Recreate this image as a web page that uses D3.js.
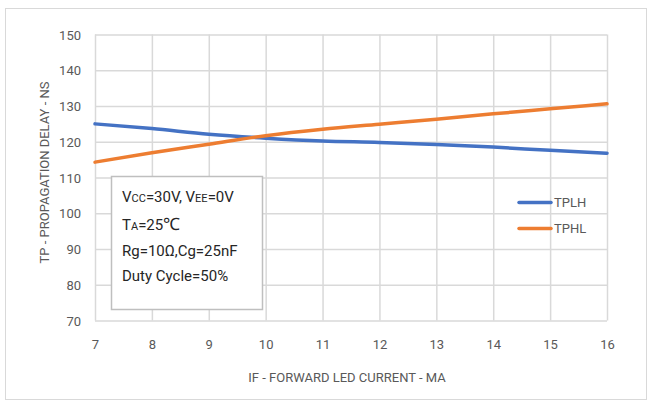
<!DOCTYPE html>
<html><head><meta charset="utf-8">
<script src="https://cdn.jsdelivr.net/npm/d3@7"></script>
<style>body{margin:0;background:#fff}svg{display:block}text{font-family:"Roboto",sans-serif}</style>
</head><body><svg id="c" width="647" height="401"></svg>
<script>
const currents = [7, 8, 9, 10, 11, 12, 13, 14, 15, 16];
const tplh = [125.0, 123.7, 122.1, 121.0, 120.2, 119.8, 119.2, 118.5, 117.6, 116.8];
const tphl = [114.3, 116.9, 119.3, 121.7, 123.5, 124.9, 126.3, 127.8, 129.2, 130.6];
const yTicks = [70, 80, 90, 100, 110, 120, 130, 140, 150];
const seriesNames = ["TPLH", "TPHL"];
const seriesColors = ["#4472C4", "#ED7D31"];
const xTitle = "IF - FORWARD LED CURRENT - MA";
const yTitle = "TP - PROPAGATION DELAY - NS";

const svg = d3.select("#c");
svg.append("rect").attr("x",5.5).attr("y",8.5).attr("width",641).attr("height",391)
  .attr("fill","#fff").attr("stroke","#d9d9d9").attr("stroke-width",1);

const x = d3.scaleLinear().domain([7,16]).range([95,607]);
const y = d3.scaleLinear().domain([70,150]).range([320.5,34.5]);

// gridlines
const gx = svg.append("g").attr("transform",`translate(0,${y(70)})`)
  .call(d3.axisBottom(x).tickValues(currents).tickSize(-(y(70)-y(150))).tickFormat(d3.format("d")));
gx.select(".domain").remove();
gx.selectAll("line").attr("stroke","#d9d9d9").attr("stroke-width",1.5);
gx.selectAll("text").attr("dy",0).attr("y",28).attr("fill","#595959").attr("font-size",13);

const gy = svg.append("g").attr("transform",`translate(${x(7)},0)`)
  .call(d3.axisLeft(y).tickValues(yTicks).tickSize(-(x(16)-x(7))).tickFormat(d3.format("d")));
gy.select(".domain").remove();
gy.selectAll("line").attr("stroke","#d9d9d9").attr("stroke-width",1.5);
gy.selectAll("text").attr("x",-14).attr("dy","0.35em").attr("fill","#595959").attr("font-size",13);

// info box
const box = svg.append("g");
box.append("rect").attr("x",111.5).attr("y",176.5).attr("width",151).attr("height",133)
  .attr("fill","#fff").attr("stroke","#bfbfbf").attr("stroke-width",1.5);
const infoLines = [
  [["V",15],["CC",11],["=30V, V",15],["EE",11],["=0V",15]],
  [["T",15],["A",11],["=25",15],["℃",17]],
  [["Rg=10Ω,Cg=25nF",15]],
  [["Duty Cycle=50%",15]]
];
const baselines = [202, 230, 256, 281];
infoLines.forEach((parts,i)=>{
  const t = box.append("text").attr("x",122).attr("y",baselines[i]).attr("fill","#262626");
  parts.forEach(p=>t.append("tspan").attr("font-size",p[1]).text(p[0]));
});

// lines
const line = d3.line().x((d,i)=>x(currents[i])).y(d=>y(d)).curve(d3.curveMonotoneX);
[tplh,tphl].forEach((s,i)=>{
  svg.append("path").datum(s).attr("d",line).attr("fill","none")
    .attr("stroke",seriesColors[i]).attr("stroke-width",3.5).attr("stroke-linecap","round");
});

// legend
seriesNames.forEach((n,i)=>{
  const ly = 202.5 + i*26;
  svg.append("line").attr("x1",519).attr("x2",551).attr("y1",ly).attr("y2",ly)
    .attr("stroke",seriesColors[i]).attr("stroke-width",3.5).attr("stroke-linecap","round");
  svg.append("text").attr("x",554).attr("y",ly).attr("dy","0.35em").attr("fill","#595959")
    .attr("font-size",13).text(n);
});

// titles
svg.append("text").attr("x",347).attr("y",382).attr("text-anchor","middle")
  .attr("fill","#595959").attr("font-size",13).text(xTitle);
svg.append("text").attr("transform",`translate(49,172.5) rotate(-90)`)
  .attr("text-anchor","middle").attr("fill","#595959").attr("font-size",13).text(yTitle);
</script></body></html>
